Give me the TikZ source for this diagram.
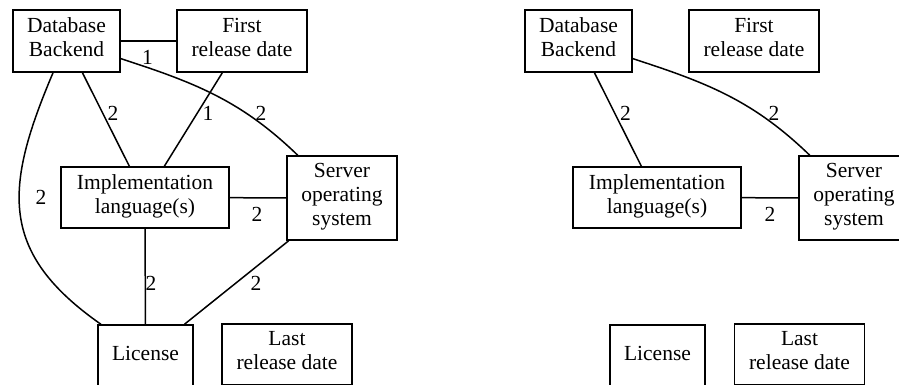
\documentclass[tikz,border=0pt]{standalone}
\usepackage{fontspec}
\setmainfont{Liberation Serif}
\newfontfamily\timesfont{Liberation Serif}
\begin{document}
\begin{tikzpicture}[x=1pt,y=1pt,
  box/.style={draw, line width=1.5pt, rectangle, inner sep=0pt, align=center,
    font=\timesfont\fontsize{21.5}{24}\selectfont,
    execute at begin node=\strut, execute at end node=\strut},
  twoline/.style={box, minimum height=62pt},
  lbl/.style={inner sep=0pt, font=\timesfont\fontsize{21.5}{24}\selectfont},
  link/.style={line width=1.5pt}]
\useasboundingbox (0,0) rectangle (899,-385);
\clip (0,0) rectangle (899,-385);
% ---------- left graph ----------
\node[twoline, minimum width=107pt] (db) at (66.5,-41) {Database\\Backend};
\node[twoline, minimum width=130pt] (first) at (242,-41) {First\\release date};
\node[box, minimum width=168pt, minimum height=61pt] (impl) at (145,-197.5) {Implementation\\language(s)};
\node[box, minimum width=110pt, minimum height=84pt] (server) at (342,-198) {Server\\operating\\system};
\node[box, minimum width=95pt, minimum height=61pt] (license) at (145.5,-355.5) {License};
\node[box, minimum width=130pt, minimum height=61pt] (last) at (287,-354.5) {Last\\release date};

\draw[link] (db) -- (first);
\draw[link] (db) -- (impl);
\draw[link] (first) -- (impl);
\draw[link] (db) to[out=-18, in=136] (server);
\draw[link] (db) to[out=-113, in=145, looseness=1.25] (license);
\draw[link] (impl) -- (server);
\draw[link] (impl) -- (license);
\draw[link] (server) -- (license);

\node[lbl] (l-dbfirst) at (147.5,-57) {1};
\node[lbl] (l-dbimpl) at (113,-113) {2};
\node[lbl] (l-firstimpl) at (208,-113) {1};
\node[lbl] (l-dbserver) at (261,-113) {2};
\node[lbl] (l-dblicense) at (41,-197) {2};
\node[lbl] (l-implserver) at (257,-214) {2};
\node[lbl] (l-impllicense) at (151,-283) {2};
\node[lbl] (l-serverlicense) at (256,-283) {2};

% ---------- right graph ----------
\node[twoline, minimum width=107pt] (r-db) at (578.5,-41) {Database\\Backend};
\node[twoline, minimum width=130pt] (r-first) at (754,-41) {First\\release date};
\node[box, minimum width=168pt, minimum height=61pt] (r-impl) at (657,-197.5) {Implementation\\language(s)};
\node[box, minimum width=110pt, minimum height=84pt] (r-server) at (854,-198) {Server\\operating\\system};
\node[box, minimum width=95pt, minimum height=61pt] (r-license) at (657.5,-355.5) {License};
\node[box, minimum width=130pt, minimum height=61pt] (r-last) at (799.5,-354.5) {Last\\release date};

\draw[link] (r-db) -- (r-impl);
\draw[link] (r-db) to[out=-18, in=136] (r-server);
\draw[link] (r-impl) -- (r-server);

\node[lbl] (rl-dbimpl) at (625.5,-113) {2};
\node[lbl] (rl-dbserver) at (774,-113) {2};
\node[lbl] (rl-implserver) at (770,-214) {2};
\end{tikzpicture}
\end{document}
